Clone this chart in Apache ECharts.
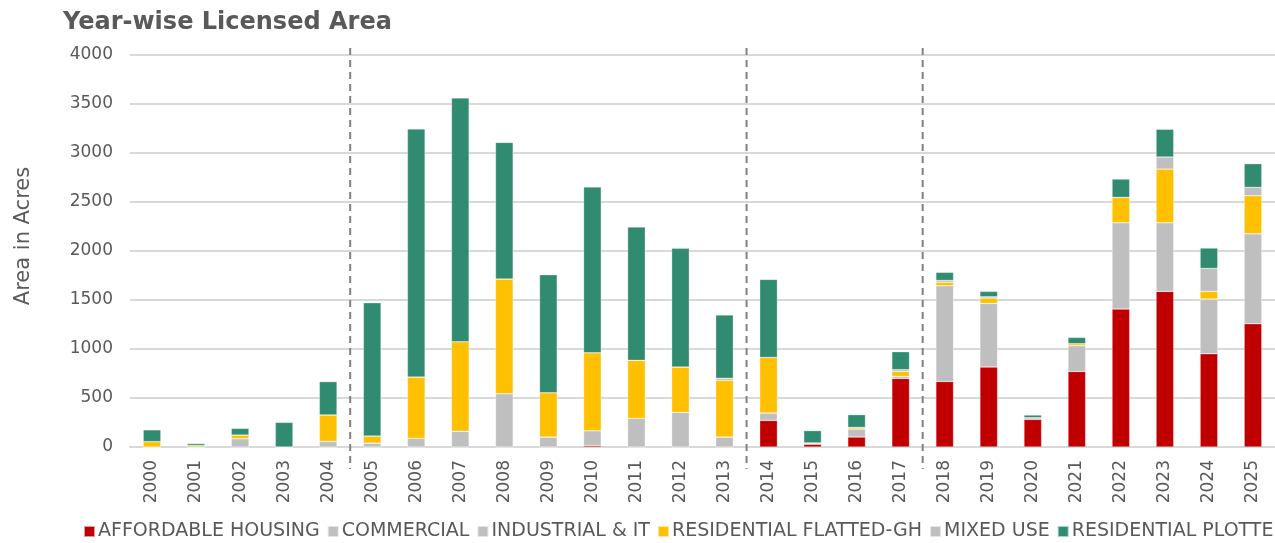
<!DOCTYPE html>
<html>
<head>
<meta charset="utf-8">
<script src="https://cdn.jsdelivr.net/npm/echarts@6/dist/echarts.min.js"></script>
<style>
html, body { margin: 0; padding: 0; background: #fff; }
#chart { width: 1275px; height: 543px; }
</style>
</head>
<body>
<div id="chart"></div>
<script>
const years = ['2000','2001','2002','2003','2004','2005','2006','2007','2008','2009','2010','2011','2012',
    '2013','2014','2015','2016','2017','2018','2019','2020','2021','2022','2023','2024','2025'];

// values (acres), stacked bottom to top
const affordableHousing = [0,0,0,0,0,0,0,0,0,0,15,0,0,0,271,28,102,700,669,816,282,771,1408,1588,952,1258];
const commercial        = [0,0,85,0,57,40,88,160,544,102,151,292,353,102,76,14,82,20,977,649,17,263,881,701,558,918];
const industrialIT      = [0,0,0,0,0,0,0,0,0,0,0,0,0,0,0,0,0,0,0,0,0,0,0,0,0,0];
const flattedGH         = [55,15,37,0,270,72,626,915,1170,452,796,592,463,578,567,0,16,51,34,55,0,20,258,547,78,388];
const mixedUse          = [0,0,0,0,0,0,0,0,0,0,0,0,0,22,0,0,0,18,20,13,0,0,0,123,234,85];
const plotted           = [120,20,68,251,340,1360,2531,2487,1394,1204,1691,1361,1211,645,796,125,130,183,82,55,27,64,187,283,208,242];

const yTicks = [0, 500, 1000, 1500, 2000, 2500, 3000, 3500, 4000];
// dashed separators sit after these years
const dividers = ['2004', '2013', '2017'];

const textColor = '#595959';

var myChart = echarts.init(document.getElementById('chart'));

function bar(name, data, color) {
    return {
        name: name,
        type: 'bar',
        stack: 'area',
        barWidth: '40%',
        itemStyle: { color: color, borderColor: 'rgba(255,255,255,0.6)', borderWidth: 0.5 },
        data: data
    };
}

var option = {
    animation: false,
    title: {
        text: 'Year-wise Licensed Area',
        left: 58,
        top: 6,
        textStyle: { color: textColor, fontSize: 24, fontWeight: 'bold', fontFamily: 'DejaVu Sans' }
    },
    legend: {
        bottom: -3,
        left: 78,
        width: 1400,
        itemWidth: 11,
        itemHeight: 11,
        itemGap: 7,
        icon: 'rect',
        textStyle: { color: textColor, fontSize: 19, fontFamily: 'DejaVu Sans', padding: [0, 0, 0, -2] },
        data: ['AFFORDABLE HOUSING', 'COMMERCIAL', 'INDUSTRIAL & IT', 'RESIDENTIAL FLATTED-GH', 'MIXED USE', 'RESIDENTIAL PLOTTED']
    },
    grid: { left: 130, top: 55, width: 1159, height: 392 },
    xAxis: {
        type: 'category',
        data: years,
        axisLine: { lineStyle: { color: '#D9D9D9', width: 2 } },
        axisTick: { show: false },
        axisLabel: { rotate: 90, color: textColor, fontSize: 17, fontFamily: 'DejaVu Sans', margin: 13 }
    },
    yAxis: {
        type: 'value',
        min: yTicks[0],
        max: yTicks[yTicks.length - 1],
        interval: 500,
        name: 'Area in Acres',
        nameLocation: 'middle',
        nameGap: 96,
        nameTextStyle: { color: textColor, fontSize: 21, fontFamily: 'DejaVu Sans', padding: [0, 0, 0, 30] },
        axisLine: { show: false },
        axisTick: { show: false },
        axisLabel: {
            color: textColor, fontSize: 17, fontFamily: 'DejaVu Sans', margin: 17,
            formatter: function (v) { return String(v); }
        },
        splitLine: { lineStyle: { color: '#D9D9D9', width: 2 } }
    },
    series: [
        bar('AFFORDABLE HOUSING', affordableHousing, '#C00000'),
        bar('COMMERCIAL', commercial, '#BFBFBF'),
        bar('INDUSTRIAL & IT', industrialIT, '#BFBFBF'),
        bar('RESIDENTIAL FLATTED-GH', flattedGH, '#FFC000'),
        bar('MIXED USE', mixedUse, '#BFBFBF'),
        bar('RESIDENTIAL PLOTTED', plotted, '#318B70')
    ]
};
myChart.setOption(option);

// dashed separators between year groups, placed from the axes
var topY = myChart.convertToPixel({ yAxisIndex: 0 }, 4000) - 7;
var botY = myChart.convertToPixel({ yAxisIndex: 0 }, 0) + 22;
var lines = dividers.map(function (y) {
    var i = years.indexOf(y);
    var x = (myChart.convertToPixel({ xAxisIndex: 0 }, years[i]) + myChart.convertToPixel({ xAxisIndex: 0 }, years[i + 1])) / 2;
    return {
        type: 'line',
        shape: { x1: x, y1: topY, x2: x, y2: botY },
        style: { stroke: '#808080', lineWidth: 2, lineDash: [7, 5] },
        z: 10
    };
});
myChart.setOption({ graphic: lines });
</script>
</body>
</html>
